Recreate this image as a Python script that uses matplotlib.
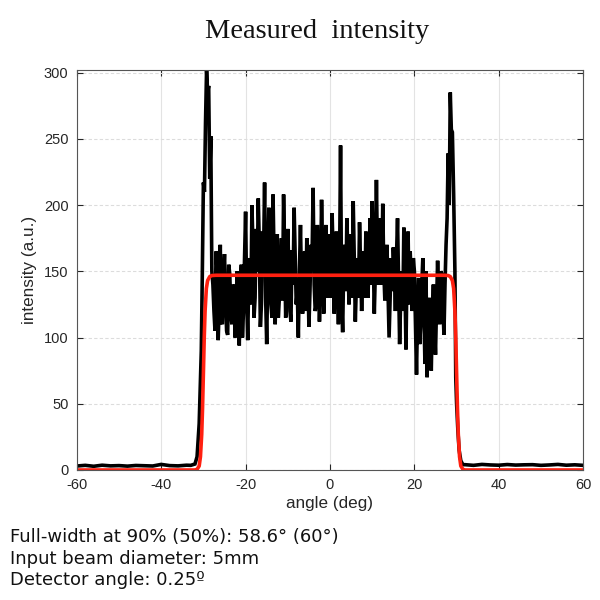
"""
Measured intensity profile with flat-top fit, read off the reference picture.
"""
import numpy as np
import matplotlib
matplotlib.use('Agg')
from matplotlib import pyplot as plt

# baseline before the beam (deg, a.u.)
base_left_angle = [-60, -58, -56, -54, -52, -50, -48, -46, -44, -42, -40, -38, -36, -34]
base_left_int = [3.0, 3.5, 2.8, 3.6, 3.1, 3.3, 2.9, 3.4, 3.2, 3.0, 4.2, 3.3, 3.1, 3.6]

# left edge and left peak
edge_left_angle = [-33, -32, -31.5, -31, -30.5, -30.25, -30, -29.75, -29.5, -29.25,
                   -29, -28.75, -28.5, -28.25]
edge_left_int = [3.5, 4.5, 10, 35, 90, 150, 217, 210, 262, 302,
                 285, 290, 220, 252]

# top of the profile, every 0.5 deg from -28 to 28
top_start, top_step = -28.0, 0.5
top_int = [150, 120, 165, 98, 170, 110, 163, 105, 155, 118,
           140, 100, 150, 94, 155, 120, 195, 98, 160, 200,
           115, 182, 205, 108, 180, 217, 95, 198, 125, 208,
           110, 178, 130, 175, 208, 115, 182, 120, 166, 198,
           125, 100, 185, 118, 165, 175, 108, 170, 213, 120,
           185, 112, 204, 118, 185, 130, 178, 194, 118, 180,
           110, 245, 104, 170, 190, 125, 178, 203, 112, 160,
           187, 120, 165, 180, 130, 190, 203, 118, 219, 140,
           190, 201, 128, 170, 100, 160, 168, 120, 190, 95,
           150, 183, 91, 180, 165, 120, 150, 72, 145, 110,
           160, 80, 70, 130, 75, 140, 87, 158, 110, 148,
           102, 170, 239]

# samples in between, every 0.5 deg from -27.75 to 27.75
mid_start = -27.75
mid_int = [140, 105, 150, 125, 112, 145, 130, 102, 148, 110,
           135, 125, 112, 140, 100, 160, 130, 145, 125, 168,
           130, 150, 170, 125, 160, 130, 150, 175, 115, 160,
           140, 115, 150, 128, 165, 140, 150, 112, 140, 160,
           135, 150, 140, 150, 120, 150, 135, 160, 140, 125,
           155, 140, 160, 140, 155, 150,
           130, 160, 150, 140, 150, 130, 155, 135, 160, 145,
           130, 160, 140, 130, 155, 150, 130, 150, 160, 140,
           160, 150, 160, 170, 140, 150, 150, 135, 130, 135,
           150, 160, 140, 130, 120, 145, 150, 125, 145, 160,
           110, 120, 95, 140, 120, 150, 100, 90, 120, 110,
           125, 130, 150, 125, 140, 190]

# right peak and right edge
edge_right_angle = [28.25, 28.5, 28.75, 29, 29.3, 29.6, 29.8, 30, 30.3, 30.6, 31, 31.5]
edge_right_int = [200, 285, 257, 255, 208, 150, 70, 50, 30, 15, 7, 4]

# baseline after the beam
base_right_angle = [32, 34, 36, 38, 40, 42, 44, 46, 48, 50, 52, 54, 56, 58, 60]
base_right_int = [4.0, 3.5, 4.2, 3.8, 3.6, 4.1, 3.7, 3.9, 4.0, 3.5, 3.8, 4.2, 3.6, 3.9, 3.5]

# flat-top fit (red)
fit_angle = [-60, -33, -32, -31.5, -31, -30.7, -30.4, -30.2, -30, -29.8, -29.6, -29.3,
             -29, -28.5, -28, -27, 27, 28, 28.5, 29, 29.3, 29.6, 29.8, 30, 30.2,
             30.4, 30.7, 31, 31.5, 32, 33, 60]
fit_int = [0, 0, 0, 0.5, 3, 10, 27, 47, 73, 100, 120, 137,
           143, 146, 146.8, 147, 147, 146.8, 146, 143, 137, 120, 100, 73, 47,
           27, 10, 3, 0.5, 0, 0, 0]

notes = ['Full-width at 90% (50%): 58.6\u00b0 (60\u00b0)',
         'Input beam diameter: 5mm',
         'Detector angle: 0.25\u00ba']

top_angle = top_start + top_step * np.arange(len(top_int))
mid_angle = mid_start + top_step * np.arange(len(mid_int))
angle = np.concatenate([base_left_angle, edge_left_angle, top_angle, mid_angle,
                        edge_right_angle, base_right_angle])
intensity = np.concatenate([base_left_int, edge_left_int, top_int, mid_int,
                            edge_right_int, base_right_int])
order = np.argsort(angle, kind='stable')
angle, intensity = angle[order], intensity[order]

plt.rcParams['font.family'] = ['Liberation Sans', 'DejaVu Sans']
plt.rcParams['axes.unicode_minus'] = False
ink = '#262626'

fig = plt.figure(figsize=(6, 6), dpi=100)
ax = fig.add_axes([0.128, 0.2167, 0.844, 0.6667])

ax.plot(angle, intensity, color='black', lw=2.6, solid_joinstyle='miter')
ax.plot(fit_angle, fit_int, color='#ff2010', lw=2.6)

ax.set_xlim(-60, 60)
ax.set_ylim(0, 302)
ax.set_xticks(np.arange(-60, 61, 20))
ax.set_yticks(np.arange(0, 301, 50))
ax.tick_params(direction='in', length=4, width=0.8, colors=ink, labelsize=10.5,
               top=True, right=True, pad=6)
for s in ax.spines.values():
    s.set_color('#555555')
    s.set_linewidth(0.8)
ax.xaxis.grid(True, color='#e3e3e3', lw=0.8, ls='-')
ax.yaxis.grid(True, color='#dcdcdc', lw=0.8, ls=(0, (3, 2)))
ax.set_axisbelow(True)

ax.set_xlabel('angle (deg)', fontsize=12.3, color=ink, labelpad=3)
ax.set_ylabel('intensity (a.u.)', fontsize=12.3, color=ink, labelpad=5)

fig.text(0.528, 0.947, 'Measured  intensity', ha='center', va='center',
         fontsize=20.5, family='Liberation Serif', color='#111111')

for i, line in enumerate(notes):
    fig.text(0.017, 0.105 - i * 0.036, line, ha='left', va='center',
             fontsize=13, family='DejaVu Sans', color='#111111')

fig.savefig('out.png', dpi=100)
